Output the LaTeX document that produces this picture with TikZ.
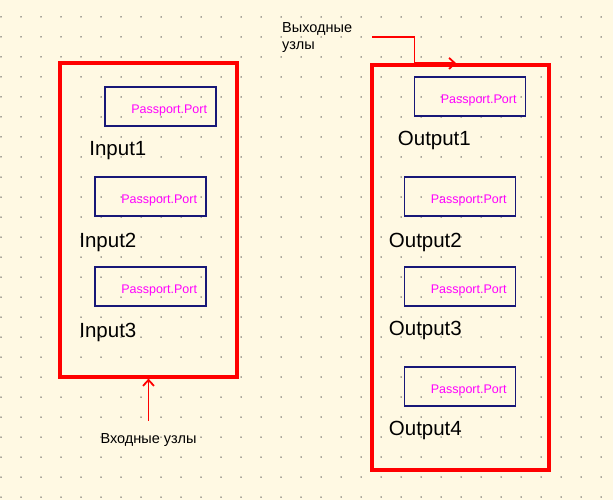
\documentclass[tikz,border=0pt]{standalone}
\usepackage{fontspec}
\setmainfont{Liberation Sans}
\usetikzlibrary{positioning,arrows.meta}

\definecolor{paper}{RGB}{255,249,227}
\definecolor{griddot}{RGB}{80,80,80}
\definecolor{frame}{RGB}{255,0,0}
\definecolor{portblue}{RGB}{24,24,120}
\definecolor{portpink}{RGB}{255,0,255}

\tikzset{
  group/.style={draw=frame, line width=3.2pt, rectangle, minimum width=177pt},
  port/.style={draw=portblue, line width=1.6pt, rectangle, minimum height=39pt,
    text width=93pt, inner xsep=9pt, align=right, text=portpink,
    text height=14pt, text depth=0pt,
    font=\fontsize{12.5}{14}\selectfont},
  pinname/.style={inner sep=0pt, font=\fontsize{20.5}{24}\selectfont},
  note/.style={inner sep=0pt, font=\fontsize{14.5}{17}\selectfont},
  conn/.style={draw=frame, line width=1.8pt, -{Straight Barb[length=6pt,width=11pt]}}
}

\begin{document}
\begin{tikzpicture}[x=1pt, y=-1pt, node distance=90pt]
  \fill[paper] (0,0) rectangle (613,500);
  \useasboundingbox (0,0) rectangle (613,500);
  % dotted grid
  \foreach \i in {0,...,30}
    \foreach \j in {0,...,24}
      \fill[griddot] (1+20*\i,17+20*\j) circle (0.75pt);

  % groups
  \node[group, minimum height=314pt] (inputs) at (148.5,220) {};
  \node[group, minimum height=405pt] (outputs) at (460.5,267.5) {};

  % input ports
  \node[port] (in1) at (160.5,106.5) {Passport.Port};
  \node[port, below of=in1, xshift=-10pt] (in2) {Passport.Port};
  \node[port, below of=in2] (in3) {Passport.Port};
  \node[pinname, below right=14pt and -15pt of in1.south west] (in1name) {Input1};
  \node[pinname, below right=16pt and -15pt of in2.south west] (in2name) {Input2};
  \node[pinname, below right=16pt and -15pt of in3.south west] (in3name) {Input3};

  % output ports
  \node[port] (out1) at (470,96.5) {Passport.Port};
  \node[port, below of=out1, xshift=-10pt, yshift=-10pt] (out2) {Passport:Port};
  \node[port, below of=out2] (out3) {Passport.Port};
  \node[port, below of=out3, yshift=-10pt] (out4) {Passport.Port};
  \node[pinname, below right=14pt and -16pt of out1.south west] (out1name) {Output1};
  \node[pinname, below right=16pt and -15pt of out2.south west] (out2name) {Output2};
  \node[pinname, below right=14pt and -15pt of out3.south west] (out3name) {Output3};
  \node[pinname, below right=14pt and -15pt of out4.south west] (out4name) {Output4};

  % notes and pointers
  \coordinate[yshift=-42pt] (intail) at (inputs.south);
  \node[note, below=13pt of intail] (innote) {Входные узлы};
  \draw[conn] (intail) -- (inputs.south);

  \node[note, anchor=north west, align=left] (outnote) at (282,22) {Выходные\\узлы};
  \coordinate (outtail) at (372,37);
  \coordinate[xshift=44pt] (outbend) at (outputs.north west);
  \coordinate[xshift=86pt] (outtip) at (outputs.north west);
  \draw[conn] (outtail) -| (outbend) -- (outtip);
\end{tikzpicture}
\end{document}
